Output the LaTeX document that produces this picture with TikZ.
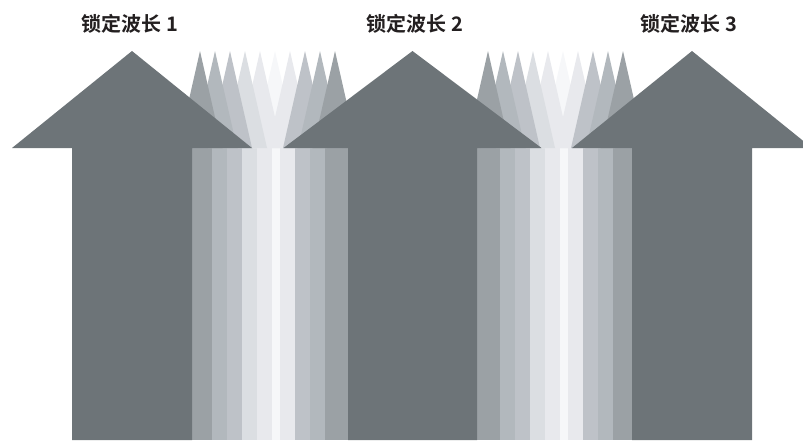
\documentclass[tikz,border=0pt]{standalone}
\usepackage{fontspec}
\newfontfamily\cjk{Noto Sans CJK SC}[BoldFont={Noto Sans CJK SC Bold}]
\definecolor{arrowgray}{HTML}{6D7478}
\definecolor{toneA}{HTML}{9BA1A5}
\definecolor{toneB}{HTML}{B2B8BD}
\definecolor{toneC}{HTML}{BEC2C8}
\definecolor{toneD}{HTML}{DBDEE2}
\definecolor{toneE}{HTML}{E8E9ED}
\definecolor{toneF}{HTML}{F6F7F9}
\definecolor{labelink}{HTML}{231F20}

\newcommand{\lockarrow}[3]{%
  \fill[arrowbody] (#1-#3,440) -- (#1-#3,148) -- (#1-#2,148) -- (#1,51)
    -- (#1+#2,148) -- (#1+#3,148) -- (#1+#3,440) -- cycle;}

\newcommand{\lightfan}[1]{%
  \foreach \l/\r/\c in {-90/-63/toneA, -63/-48/toneB, -48/-33/toneC, -33/-18/toneD,
      -18/-3/toneE, -3/5/toneF, 5/20/toneE, 20/35/toneC, 35/50/toneB, 50/80/toneA}
    \fill[stripe, fill=\c] (#1+\l,148) rectangle (#1+\r,440);
  \foreach \k/\c in {6/toneF, 5/toneE, 7/toneE, 4/toneD, 8/toneC,
      3/toneC, 9/toneB, 2/toneB, 10/toneA, 1/toneA}
    \fill[spike, fill=\c] (#1+15*\k-90-22,148) -- (#1+15*\k-90,51)
      -- (#1+15*\k-90+22,148) -- cycle;}

\begin{document}
\begin{tikzpicture}[x=1pt, y=-1pt,
  arrowbody/.style={fill=arrowgray},
  stripe/.style={draw=none},
  spike/.style={draw=none},
  wavelabel/.style={font=\cjk\bfseries\fontsize{20}{24}\selectfont,
    text=labelink, inner sep=0pt},
]

\useasboundingbox (0,0) rectangle (803,440);
\clip (0,0) rectangle (803,440);

\lightfan{275}
\lightfan{563}

\lockarrow{132}{120}{60}
\lockarrow{412.5}{129}{64.5}
\lockarrow{692}{120}{60}

\node[wavelabel] (lock1) at (130,24) {锁定波长 1};
\node[wavelabel] (lock2) at (415,24) {锁定波长 2};
\node[wavelabel] (lock3) at (689,24) {锁定波长 3};

\end{tikzpicture}
\end{document}
